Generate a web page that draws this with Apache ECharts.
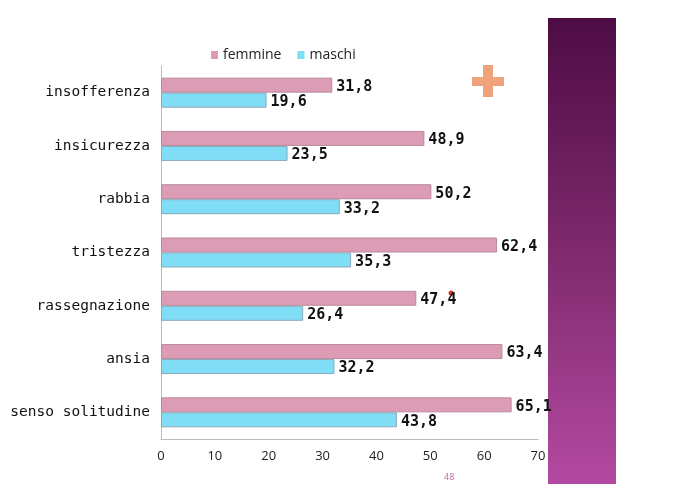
<!DOCTYPE html>
<html>
<head>
<meta charset="utf-8">
<script src="https://cdn.jsdelivr.net/npm/echarts@6/dist/echarts.min.js"></script>
<style>
  html, body { margin: 0; padding: 0; background: #fff; }
  #chart { width: 678px; height: 484px; }
</style>
</head>
<body>
<div id="chart"></div>
<script>
const categories = ['insofferenza', 'insicurezza', 'rabbia', 'tristezza', 'rassegnazione', 'ansia', 'senso solitudine'];
const femmine = [31.8, 48.9, 50.2, 62.4, 47.4, 63.4, 65.1];
const maschi = [19.6, 23.5, 33.2, 35.3, 26.4, 32.2, 43.8];
const xTicks = [0, 10, 20, 30, 40, 50, 60, 70];

const pink = '#dc9cb5';
const blue = '#80ddf6';

const fmt = p => p.value.toFixed(1).replace('.', ',');

const labelStyle = {
    show: true,
    position: 'right',
    distance: 4,
    formatter: fmt,
    fontFamily: 'DejaVu Sans Mono',
    fontWeight: 'bold',
    fontSize: 15,
    color: '#111'
};

const chart = echarts.init(document.getElementById('chart'));
chart.setOption({
    animation: false,
    backgroundColor: '#fff',
    legend: {
        top: 43,
        left: 206,
        itemWidth: 7,
        itemHeight: 8,
        itemGap: 16,
        icon: 'rect',
        itemStyle: { borderWidth: 0 },
        textStyle: { fontFamily: 'Open Sans', fontSize: 14, color: '#222' },
        data: ['femmine', 'maschi']
    },
    grid: { left: 161, right: 140, top: 66, bottom: 45 },
    xAxis: {
        type: 'value',
        min: xTicks[0],
        max: xTicks[xTicks.length - 1],
        interval: 10,
        splitLine: { show: false },
        axisLine: { show: true, lineStyle: { color: '#bbb' } },
        axisTick: { show: false },
        axisLabel: { margin: 11, fontFamily: 'Open Sans', fontSize: 13, color: '#222' }
    },
    yAxis: {
        type: 'category',
        inverse: true,
        data: categories,
        axisLine: { show: true, lineStyle: { color: '#bbb' } },
        axisTick: { show: false },
        axisLabel: { margin: 11, fontFamily: 'DejaVu Sans Mono', fontSize: 14.5, color: '#111' }
    },
    series: [
        {
            name: 'femmine',
            type: 'bar',
            data: femmine,
            barWidth: 15,
            barGap: '0%',
            itemStyle: { color: pink, borderColor: '#b98a9c', borderWidth: 1 },
            label: Object.assign({}, labelStyle, { offset: [0, 2] })
        },
        {
            name: 'maschi',
            type: 'bar',
            data: maschi,
            barWidth: 15,
            itemStyle: { color: blue, borderColor: '#8aa9b6', borderWidth: 1 },
            label: Object.assign({}, labelStyle, { offset: [0, 2] })
        }
    ],
    graphic: [
        // purple side band
        {
            type: 'rect',
            shape: { x: 548, y: 18, width: 68, height: 470 },
            style: {
                fill: new echarts.graphic.LinearGradient(0, 0, 0, 1, [
                    { offset: 0, color: '#4e0c44' },
                    { offset: 0.45, color: '#7a2769' },
                    { offset: 1, color: '#b44aa2' }
                ])
            }
        },
        // orange plus
        { type: 'rect', shape: { x: 472, y: 77, width: 32, height: 9 }, style: { fill: '#f0a27a' } },
        { type: 'rect', shape: { x: 483, y: 65, width: 10, height: 32 }, style: { fill: '#f0a27a' } },
        // red dot
        { type: 'circle', shape: { cx: 451, cy: 293, r: 2.5 }, style: { fill: '#e03030' } },
        // page number
        {
            type: 'text', left: 444, top: 473,
            style: { text: '48', fill: '#c36aa8', fontSize: 9, fontFamily: 'Open Sans' }
        }
    ]
});
</script>
</body>
</html>
